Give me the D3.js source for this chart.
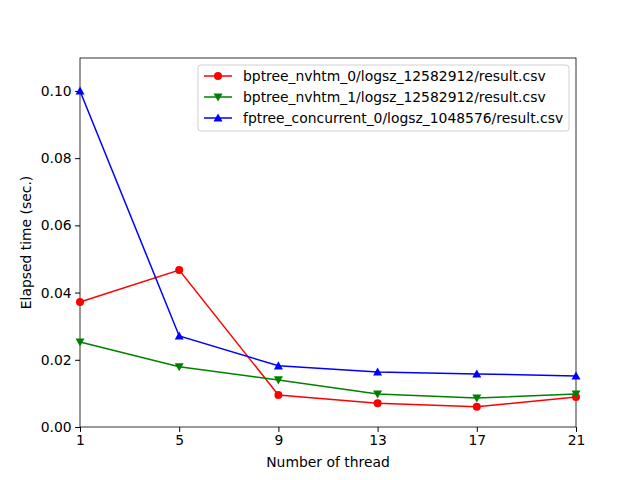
<!DOCTYPE html>
<html><head><meta charset="utf-8">
<script src="https://cdn.jsdelivr.net/npm/d3@7"></script>
<style>body{margin:0;background:#fff}text{font-family:"DejaVu Sans",sans-serif}</style>
</head><body><svg id="chart" width="640" height="480"></svg>
<script>
const threads = [1, 5, 9, 13, 17, 21];
const seriesNames = [
  "bptree_nvhtm_0/logsz_12582912/result.csv",
  "bptree_nvhtm_1/logsz_12582912/result.csv",
  "fptree_concurrent_0/logsz_1048576/result.csv"
];
const red = [0.0372, 0.0467, 0.0095, 0.0071, 0.0060, 0.0089];
const green = [0.0253, 0.0179, 0.0140, 0.0098, 0.0086, 0.0098];
const blue = [0.1000, 0.0271, 0.0182, 0.0164, 0.0158, 0.0152];
const yTicks = [0, 0.02, 0.04, 0.06, 0.08, 0.10];

const series = [
  {name: seriesNames[0], values: red, color: "red", marker: "circle"},
  {name: seriesNames[1], values: green, color: "green", marker: "down"},
  {name: seriesNames[2], values: blue, color: "blue", marker: "up"}
];

const fs = 13.9;
const svg = d3.select("#chart");
const m = {left: 80, right: 576, top: 58, bottom: 427};
const x = d3.scaleLinear().domain([1, 21]).range([m.left, m.right]);
const y = d3.scaleLinear().domain([0, 0.1098]).range([m.bottom, m.top]);

svg.append("g").attr("transform", `translate(0,${m.bottom})`)
  .call(d3.axisBottom(x).tickValues(threads).tickSize(4.9).tickPadding(3.5).tickFormat(d3.format("d")));
svg.append("g").attr("transform", `translate(${m.left},0)`)
  .call(d3.axisLeft(y).tickValues(yTicks).tickSize(4.9).tickPadding(3.5).tickFormat(d3.format(".2f")));
svg.selectAll(".domain").remove();
svg.selectAll(".tick text").attr("font-size", fs).attr("fill", "#000").style("font-family", "DejaVu Sans");
svg.selectAll(".tick line").attr("stroke", "#000");
svg.append("rect").attr("x", m.left).attr("y", m.top).attr("width", m.right - m.left)
  .attr("height", m.bottom - m.top).attr("fill", "none").attr("stroke", "#000").attr("stroke-width", 0.8);

function marker(g, type, color) {
  if (type === "circle") g.append("circle").attr("r", 4).attr("fill", color);
  else {
    const s = 4.5;
    const pts = type === "up" ? [[0, -s], [s, s * 0.8], [-s, s * 0.8]] : [[0, s], [s, -s * 0.8], [-s, -s * 0.8]];
    g.append("path").attr("d", "M" + pts.join("L") + "Z").attr("fill", color);
  }
}

const line = d3.line().x((d, i) => x(threads[i])).y(d => y(d));
series.forEach(s => {
  svg.append("path").datum(s.values).attr("d", line).attr("fill", "none")
    .attr("stroke", s.color).attr("stroke-width", 1.5);
  s.values.forEach((v, i) => marker(svg.append("g").attr("transform", `translate(${x(threads[i])},${y(v)})`), s.marker, s.color));
});

const lg = svg.append("g").attr("transform", "translate(198,65)");
lg.append("rect").attr("width", 371).attr("height", 66).attr("rx", 3).attr("fill", "#fff")
  .attr("stroke", "#ccc").attr("opacity", 0.9);
series.forEach((s, i) => {
  const yy = 11 + i * 21;
  lg.append("line").attr("x1", 6).attr("x2", 34).attr("y1", yy).attr("y2", yy).attr("stroke", s.color).attr("stroke-width", 1.5);
  marker(lg.append("g").attr("transform", `translate(20,${yy})`), s.marker, s.color);
  lg.append("text").attr("x", 45).attr("y", yy + 5).attr("font-size", fs).text(s.name);
});

svg.append("text").attr("x", (m.left + m.right) / 2).attr("y", 467).attr("text-anchor", "middle")
  .attr("font-size", fs).text("Number of thread");
svg.append("text").attr("transform", `translate(31,${(m.top + m.bottom) / 2}) rotate(-90)`)
  .attr("text-anchor", "middle").attr("font-size", fs).text("Elapsed time (sec.)");
</script></body></html>
